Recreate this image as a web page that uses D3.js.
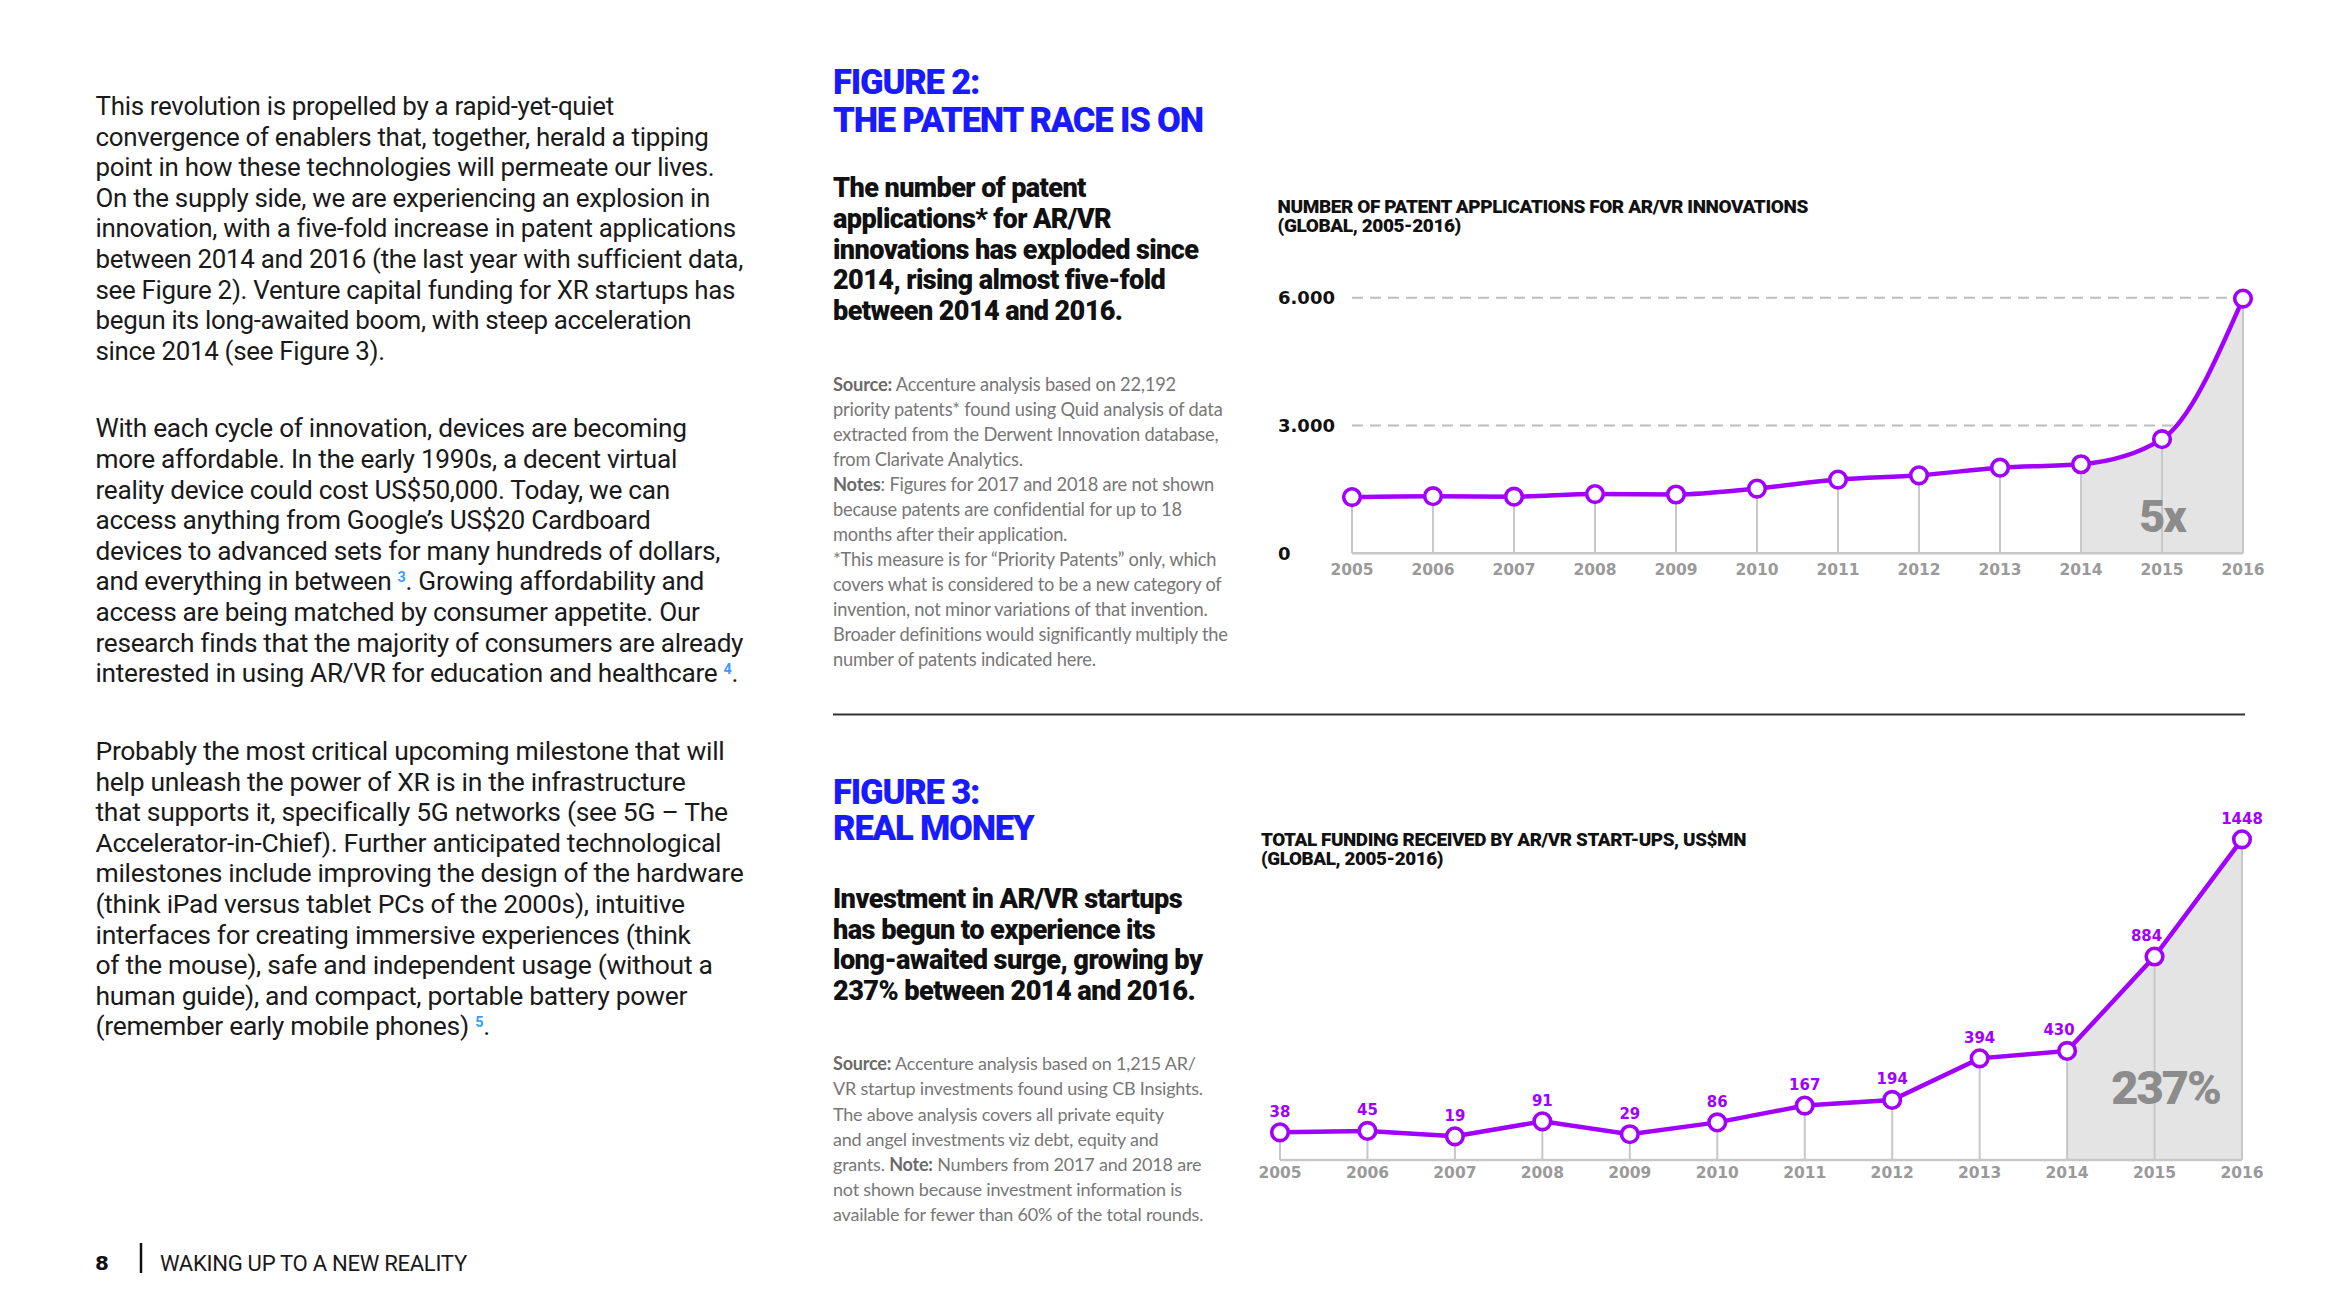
<!DOCTYPE html>
<html>
<head>
<meta charset="utf-8">
<script src="https://cdn.jsdelivr.net/npm/d3@7"></script>
<style>
  body { margin: 0; background: #fff; }
</style>
</head>
<body>
<div class="page"></div>
<script>
// ---- data ----
const years = ['2005', '2006', '2007', '2008', '2009', '2010', '2011', '2012', '2013', '2014', '2015', '2016'];
// patent applications
const patents = [1320, 1340, 1330, 1390, 1380, 1520, 1730, 1830, 2010, 2090, 2680, 5980];
const patentTicks = [0, 3000, 6000];
const patentTickLabels = ['0', '3.000', '6.000'];
// funding in US$mn, figure 3
const funding = [38, 45, 19, 91, 29, 86, 167, 194, 394, 430, 884, 1448];
const fundingFloor = -95; // the baseline of fig 3 sits a little below zero

const para1 = [
  'This revolution is propelled by a rapid-yet-quiet',
  'convergence of enablers that, together, herald a tipping',
  'point in how these technologies will permeate our lives.',
  'On the supply side, we are experiencing an explosion in',
  'innovation, with a five-fold increase in patent applications',
  'between 2014 and 2016 (the last year with sufficient data,',
  'see Figure 2). Venture capital funding for XR startups has',
  'begun its long-awaited boom, with steep acceleration',
  'since 2014 (see Figure 3).'
];
const para2 = [
  'With each cycle of innovation, devices are becoming',
  'more affordable. In the early 1990s, a decent virtual',
  'reality device could cost US$50,000. Today, we can',
  'access anything from Google\u2019s US$20 Cardboard',
  'devices to advanced sets for many hundreds of dollars,',
  'and everything in between {3}. Growing affordability and',
  'access are being matched by consumer appetite. Our',
  'research finds that the majority of consumers are already',
  'interested in using AR/VR for education and healthcare {4}.'
];
const para3 = [
  'Probably the most critical upcoming milestone that will',
  'help unleash the power of XR is in the infrastructure',
  'that supports it, specifically 5G networks (see 5G \u2013 The',
  'Accelerator-in-Chief). Further anticipated technological',
  'milestones include improving the design of the hardware',
  '(think iPad versus tablet PCs of the 2000s), intuitive',
  'interfaces for creating immersive experiences (think',
  'of the mouse), safe and independent usage (without a',
  'human guide), and compact, portable battery power',
  '(remember early mobile phones) {5}.'
];

const fig2Title = ['FIGURE 2:', 'THE PATENT RACE IS ON'];
const fig2Sub = [
  'The number of patent',
  'applications* for AR/VR',
  'innovations has exploded since',
  '2014, rising almost five-fold',
  'between 2014 and 2016.'
];
const fig2Source = [
  '**Source:** Accenture analysis based on 22,192',
  'priority patents* found using Quid analysis of data',
  'extracted from the Derwent Innovation database,',
  'from Clarivate Analytics.',
  '**Notes**: Figures for 2017 and 2018 are not shown',
  'because patents are confidential for up to 18',
  'months after their application.',
  '*This measure is for \u201cPriority Patents\u201d only, which',
  'covers what is considered to be a new category of',
  'invention, not minor variations of that invention.',
  'Broader definitions would significantly multiply the',
  'number of patents indicated here.'
];
const chart2Title = ['NUMBER OF PATENT APPLICATIONS FOR AR/VR INNOVATIONS', '(GLOBAL, 2005-2016)'];

const fig3Title = ['FIGURE 3:', 'REAL MONEY'];
const fig3Sub = [
  'Investment in AR/VR startups',
  'has begun to experience its',
  'long-awaited surge, growing by',
  '237% between 2014 and 2016.'
];
const fig3Source = [
  '**Source:** Accenture analysis based on 1,215 AR/',
  'VR startup investments found using CB Insights.',
  'The above analysis covers all private equity',
  'and angel investments viz debt, equity and',
  'grants.  **Note:**  Numbers from 2017 and 2018 are',
  'not shown because investment information is',
  'available for fewer than 60% of the total rounds.'
];
const chart3Title = ['TOTAL FUNDING RECEIVED BY AR/VR START-UPS, US$MN', '(GLOBAL, 2005-2016)'];

// ---- setup ----
const W = 2339, H = 1315;
const purple = '#a100ff';
const blue = '#1a1aff';
const grey = '#c8c8c8';

const svg = d3.select('.page').append('svg')
  .attr('width', W)
  .attr('height', H)
  .style('display', 'block');

svg.append('rect').attr('width', W).attr('height', H).attr('fill', '#fff');

// block of lines; **bold** and {n} superscripts; fit = target width of widest line
function textBlock(lines, o) {
  const g = svg.append('g')
    .attr('font-family', o.font)
    .attr('font-size', o.size)
    .attr('font-weight', o.weight || 400)
    .attr('fill', o.color || '#1a1a1a')
    .attr('letter-spacing', o.ls || 0);
  lines.forEach((line, i) => {
    const t = g.append('text')
      .attr('x', o.x)
      .attr('y', o.y + i * o.step)
      .attr('dy', '0.35em');
    let afterSup = false;
    line.split(/(\*\*[^*]+\*\*|\{\d\})/).filter(s => s).forEach(s => {
      let ts;
      if (s.startsWith('**')) {
        ts = t.append('tspan').attr('font-weight', 700).attr('fill', o.boldColor || null).text(s.slice(2, -2));
      } else if (s.startsWith('{')) {
        ts = t.append('tspan').attr('fill', '#3d9bff').attr('font-weight', 700)
          .attr('font-size', '0.55em').attr('dy', '-0.6em').text(s.slice(1, -1));
      } else {
        ts = t.append('tspan').text(s);
      }
      if (afterSup) ts.attr('dy', '0.33em');
      afterSup = s.startsWith('{');
    });
  });
  if (o.fit) {
    const w = d3.max(g.selectAll('text').nodes(), n => n.getComputedTextLength());
    g.attr('font-size', o.size * o.fit / w);
  }
  return g;
}

// ---- left column ----
const bodyFont = 'Roboto, "Noto Sans", sans-serif';
[[para1, 106], [para2, 428.3], [para3, 750.7]].forEach(([p, y]) => {
  textBlock(p, {x: 95.5, y: y, step: 30.6, font: bodyFont, size: 25, ls: -0.3, fit: 647});
});

// footer
svg.append('text').attr('x', 95).attr('y', 1263).attr('dy', '0.35em')
  .attr('font-family', '"DejaVu Sans", sans-serif').attr('font-weight', 700).attr('font-size', 20).attr('fill', '#111').text('8');
svg.append('line').attr('x1', 141).attr('x2', 141).attr('y1', 1243).attr('y2', 1273)
  .attr('stroke', '#111').attr('stroke-width', 2.5);
textBlock(['WAKING UP TO A NEW REALITY'], {x: 160, y: 1263, step: 0, font: bodyFont, size: 22, ls: -0.3, fit: 307});

// ---- figure texts ----
const headFont = 'Roboto, Inter, sans-serif';
const noteFont = 'Lato, "Open Sans", sans-serif';
const numFont = '"DejaVu Sans", Roboto, sans-serif';

const t2 = textBlock(fig2Title, {x: 833, y: 81.6, step: 37.8, font: headFont, size: 36, weight: 900, color: blue, ls: -1.2, fit: 371});
const titleSize = +t2.attr('font-size');
textBlock(fig2Sub, {x: 833, y: 188, step: 30.6, font: headFont, size: 25, weight: 900, color: '#111', ls: -0.6, fit: 364});
textBlock(fig2Source, {x: 833, y: 385, step: 25, font: noteFont, size: 17, color: '#777', boldColor: '#6a6a6a', ls: -0.2, fit: 394});
textBlock(chart2Title, {x: 1277.6, y: 206, step: 19.4, font: headFont, size: 16, weight: 900, color: '#111', ls: -0.4, fit: 527});

svg.append('line').attr('x1', 833).attr('x2', 2245).attr('y1', 714.4).attr('y2', 714.4)
  .attr('stroke', '#333').attr('stroke-width', 2);

textBlock(fig3Title, {x: 833, y: 792, step: 36, font: headFont, size: titleSize, weight: 900, color: blue, ls: -1.2});
textBlock(fig3Sub, {x: 833, y: 898.5, step: 30.6, font: headFont, size: 25, weight: 900, color: '#111', ls: -0.6, fit: 368});
textBlock(fig3Source, {x: 833, y: 1064, step: 25.1, font: noteFont, size: 17, color: '#777', boldColor: '#6a6a6a', ls: -0.2, fit: 370});
textBlock(chart3Title, {x: 1261, y: 839, step: 19.4, font: headFont, size: 16, weight: 900, color: '#111', ls: -0.4, fit: 482});

// ---- chart helper ----
function drawChart(o) {
  const g = svg.append('g');
  const pts = years.map((yr, i) => ({yr: yr, v: o.values[i], i: i}));
  const base = o.y(o.y.domain()[0]);

  const clipId = o.id + '-clip';
  g.append('clipPath').attr('id', clipId).append('rect')
    .attr('x', o.x('2014')).attr('y', 0)
    .attr('width', o.x('2016') - o.x('2014')).attr('height', H);

  const area = d3.area()
    .x(d => o.x(d.yr))
    .y0(base)
    .y1(d => o.y(d.v))
    .curve(o.curve);
  g.append('path').datum(pts)
    .attr('d', area)
    .attr('fill', '#e4e4e4')
    .attr('clip-path', 'url(#' + clipId + ')');

  // drop lines
  g.selectAll('.drop').data(pts).enter().append('line')
    .attr('class', 'drop')
    .attr('x1', d => o.x(d.yr)).attr('x2', d => o.x(d.yr))
    .attr('y1', d => o.y(d.v)).attr('y2', base)
    .attr('stroke', grey).attr('stroke-width', 2);

  g.append('line')
    .attr('x1', o.x(years[0])).attr('x2', o.x(years[years.length - 1]))
    .attr('y1', base).attr('y2', base)
    .attr('stroke', grey).attr('stroke-width', 2.5);

  const line = d3.line()
    .x(d => o.x(d.yr))
    .y(d => o.y(d.v))
    .curve(o.curve);
  g.append('path').datum(pts)
    .attr('d', line)
    .attr('fill', 'none')
    .attr('stroke', purple)
    .attr('stroke-width', 4.5);

  g.selectAll('.dot').data(pts).enter().append('circle')
    .attr('class', 'dot')
    .attr('cx', d => o.x(d.yr)).attr('cy', d => o.y(d.v))
    .attr('r', 8.3)
    .attr('fill', '#fff')
    .attr('stroke', purple)
    .attr('stroke-width', 3.6);

  g.selectAll('.yr').data(years).enter().append('text')
    .attr('class', 'yr')
    .attr('x', d => o.x(d)).attr('y', o.yearY).attr('dy', '0.36em')
    .attr('text-anchor', 'middle')
    .attr('font-family', numFont).attr('font-weight', 700).attr('font-size', 15.5)
    .attr('fill', '#9a9a9a')
    .text(d => d);

  g.append('text')
    .attr('x', (o.x('2014') + o.x('2016')) / 2 + o.bigDx)
    .attr('y', o.bigY).attr('dy', '0.35em')
    .attr('text-anchor', 'middle')
    .attr('font-family', headFont).attr('font-weight', 900).attr('font-size', o.bigSize)
    .attr('letter-spacing', -2)
    .attr('fill', '#8c8c8c')
    .text(o.big);
  return {g, pts};
}

// ---- figure 2 ----
const x2 = d3.scalePoint().domain(years).range([1352, 2243]);
const y2 = d3.scaleLinear().domain([0, 6000]).range([553.3, 297.7]);

svg.append('g').selectAll('line').data(patentTicks.filter(t => t > 0)).enter().append('line')
  .attr('x1', 1352).attr('x2', 2243)
  .attr('y1', d => y2(d)).attr('y2', d => y2(d))
  .attr('stroke', '#bdbdbd').attr('stroke-width', 2)
  .attr('stroke-dasharray', '11,7');

svg.append('g').selectAll('text').data(patentTicks).enter().append('text')
  .attr('x', 1278).attr('y', d => y2(d)).attr('dy', '0.36em')
  .attr('font-family', numFont).attr('font-weight', 700).attr('font-size', 18)
  .attr('fill', '#111')
  .text((d, i) => patentTickLabels[i]);

drawChart({id: 'f2', x: x2, y: y2, values: patents, curve: d3.curveMonotoneX,
  yearY: 569.3, big: '5x', bigY: 516, bigDx: 0, bigSize: 45});

// ---- figure 3 ----
const x3 = d3.scalePoint().domain(years).range([1280, 2242]);
const y3 = d3.scaleLinear().domain([fundingFloor, 1448]).range([1160, 839.3]);

const c3 = drawChart({id: 'f3', x: x3, y: y3, values: funding, curve: d3.curveLinear,
  yearY: 1172.7, big: '237%', bigY: 1088, bigDx: 11, bigSize: 47});

// labels whose next segment climbs steeply are pushed left off the line
const steep = d => d.i < funding.length - 1 && funding[d.i + 1] - d.v > 300;
c3.g.selectAll('.val').data(c3.pts).enter().append('text')
  .attr('class', 'val')
  .attr('x', d => x3(d.yr) - (steep(d) ? 8 : 0)).attr('y', d => y3(d.v) - 21).attr('dy', '0.36em')
  .attr('text-anchor', 'middle')
  .attr('font-family', numFont).attr('font-weight', 700).attr('font-size', 15)
  .attr('fill', purple)
  .text(d => d.v);
</script>
</body>
</html>
